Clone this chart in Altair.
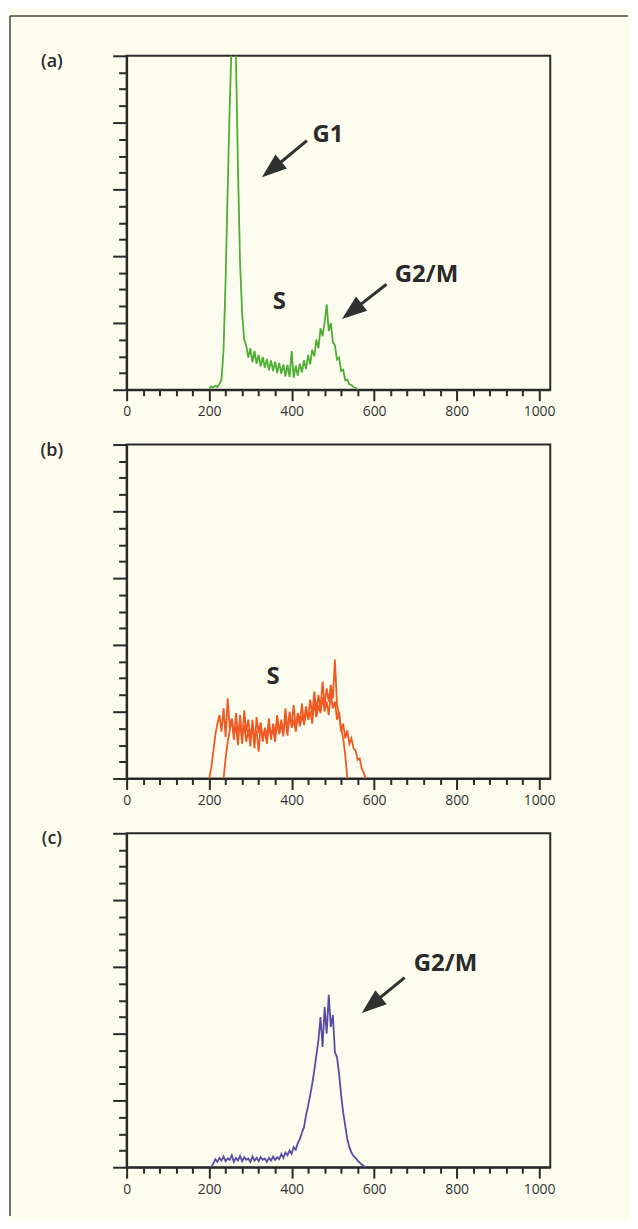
import altair as alt
import pandas as pd

# ---------------- data ----------------
# Panel (a): asynchronous population (green)
a_x = [200, 205, 210, 215, 220, 225, 230, 235, 240, 245,
       250, 255, 260, 265, 270, 275, 280, 285, 290, 295,
       300, 305, 310, 315, 320, 325, 330, 335, 340, 345,
       350, 355, 360, 365, 370, 375, 380, 385, 390, 395,
       400, 405, 410, 415, 420, 425, 430, 435, 440, 445,
       450, 455, 460, 465, 470, 475, 480, 485, 490, 495,
       500, 505, 510, 515, 520, 525, 530, 535, 540, 545,
       550, 555, 560]
a_y = [2, 5, 3, 6, 4, 9, 15, 60, 165, 300,
       425, 530, 560, 500, 330, 190, 115, 75, 66, 48,
       62, 41, 58, 39, 52, 35, 49, 33, 46, 29,
       44, 28, 42, 25, 40, 24, 38, 20, 37, 19,
       58, 18, 36, 21, 39, 26, 44, 31, 52, 38,
       60, 50, 75, 62, 92, 80, 101, 128, 88, 100,
       72, 66, 45, 48, 28, 30, 14, 15, 8, 7,
       4, 3, 0]

# Panel (b): S-phase population (orange), two overlapping traces
b1_x = [200, 205, 210, 215, 220, 225, 230, 235, 240, 245,
        250, 255, 260, 265, 270, 275, 280, 285, 290, 295,
        300, 305, 310, 315, 320, 325, 330, 335, 340, 345,
        350, 355, 360, 365, 370, 375, 380, 385, 390, 395,
        400, 405, 410, 415, 420, 425, 430, 435, 440, 445,
        450, 455, 460, 465, 470, 475, 480, 485, 490, 495,
        500, 505, 510, 515, 520, 525, 530, 535]
b1_y = [0, 15, 40, 65, 82, 95, 70, 105, 62, 120,
        75, 90, 58, 98, 66, 85, 52, 102, 70, 88,
        60, 80, 45, 92, 68, 84, 55, 76, 62, 90,
        58, 82, 65, 95, 70, 88, 63, 105, 72, 92,
        80, 110, 75, 98, 85, 112, 80, 100, 90, 118,
        95, 130, 100, 125, 105, 145, 110, 135, 115, 140,
        120, 178, 110, 95, 75, 60, 35, 0]
b2_x = [235, 240, 245, 250, 255, 260, 265, 270, 275, 280,
        285, 290, 295, 300, 305, 310, 315, 320, 325, 330,
        335, 340, 345, 350, 355, 360, 365, 370, 375, 380,
        385, 390, 395, 400, 405, 410, 415, 420, 425, 430,
        435, 440, 445, 450, 455, 460, 465, 470, 475, 480,
        485, 490, 495, 500, 505, 510, 515, 520, 525, 530,
        535, 540, 545, 550, 555, 560, 565, 570, 575, 580]
b2_y = [0, 30, 55, 72, 88, 66, 78, 50, 95, 62,
        80, 55, 74, 48, 88, 60, 72, 40, 78, 62,
        70, 52, 80, 65, 74, 55, 86, 66, 78, 72,
        90, 64, 100, 76, 88, 70, 96, 78, 92, 85,
        108, 88, 100, 82, 115, 92, 110, 98, 122, 100,
        115, 95, 128, 105, 115, 88, 100, 70, 82, 60,
        72, 52, 60, 45, 42, 28, 30, 15, 8, 0]

# Panel (c): G2/M population (blue-violet)
c_x = [205, 210, 215, 220, 225, 230, 235, 240, 245, 250,
       255, 260, 265, 270, 275, 280, 285, 290, 295, 300,
       305, 310, 315, 320, 325, 330, 335, 340, 345, 350,
       355, 360, 365, 370, 375, 380, 385, 390, 395, 400,
       405, 410, 415, 420, 425, 430, 435, 440, 445, 450,
       455, 460, 465, 470, 475, 480, 485, 490, 495, 500,
       505, 510, 515, 520, 525, 530, 535, 540, 545, 550,
       555, 560, 565, 570, 575, 580]
c_y = [0, 5, 12, 8, 14, 10, 16, 9, 13, 11,
       18, 8, 14, 10, 17, 9, 15, 11, 13, 8,
       16, 10, 14, 9, 15, 11, 13, 8, 14, 10,
       16, 11, 15, 12, 20, 14, 22, 18, 25, 20,
       30, 26, 36, 42, 52, 60, 78, 92, 108, 125,
       145, 168, 190, 225, 180, 240, 200, 258, 210, 228,
       172, 165, 140, 108, 82, 62, 42, 30, 22, 17,
       14, 10, 7, 4, 2, 0]

# tick labels / tick positions
x_tick_values = [0, 40, 80, 120, 160, 200, 240, 280, 320, 360, 400, 440, 480,
                 520, 560, 600, 640, 680, 720, 760, 800, 840, 880, 920, 960, 1000]
y_tick_values = [0, 25, 50, 75, 100, 125, 150, 175, 200, 225, 250, 275, 300,
                 325, 350, 375, 400, 425, 450, 475, 500]

# annotations
a_labels = ["G1", "S", "G2/M"]
a_lab_x = [488, 370, 727]
a_lab_y = [382, 131, 172]
b_labels = ["S"]
b_lab_x = [355]
b_lab_y = [152]
c_labels = ["G2/M"]
c_lab_x = [773]
c_lab_y = [304]

# arrows: tail, shaft end, tip, heading (degrees clockwise from up)
a_arr_tail_x = [437, 630]
a_arr_tail_y = [373, 158]
a_arr_end_x = [351, 545]
a_arr_end_y = [329, 117]
a_arr_tip_x = [328, 522]
a_arr_tip_y = [318, 106]
a_arr_ang = [230.5, 232.1]
c_arr_tail_x = [674]
c_arr_tail_y = [284]
c_arr_end_x = [593]
c_arr_end_y = [243]
c_arr_tip_x = [570]
c_arr_tip_y = [231]
c_arr_ang = [230.8]

# ---------------- styling ----------------
INK = "#2a2a2a"
BG = "#fcfcef"
GREEN = "#4fae34"
ORANGE = "#f05a22"
VIOLET = "#5a4ca3"
FONT = "Open Sans"
W, H = 425, 335

xscale = alt.Scale(domain=[0, 1027], nice=False, zero=False)
yscale = alt.Scale(domain=[0, 500], nice=False)

xaxis = alt.Axis(
    values=x_tick_values, title=None, orient="bottom", grid=False, format="d",
    domainColor=INK, domainWidth=2, tickColor=INK, tickWidth=2,
    tickSize={"condition": {"test": "datum.value % 200 === 0", "value": 11}, "value": 6},
    labelExpr="datum.value % 200 === 0 ? datum.label : ''",
    labelFont=FONT, labelFontSize=14, labelColor="#333333",
    labelPadding=4, labelOverlap=False, labelFlush=False,
)
yaxis = alt.Axis(
    values=y_tick_values, title=None, orient="left", grid=False, labels=False,
    domainColor=INK, domainWidth=2, tickColor=INK, tickWidth=2,
    tickSize={"condition": {"test": "datum.value % 100 === 0", "value": 14}, "value": 8},
)


def X(field):
    return alt.X(field, scale=xscale, axis=xaxis)


def Y(field):
    return alt.Y(field, scale=yscale, axis=yaxis)


def trace(xs, ys, color):
    df = pd.DataFrame({"x": xs, "y": ys})
    return alt.Chart(df).mark_line(color=color, strokeWidth=1.8, clip=True).encode(
        x=X("x:Q"), y=Y("y:Q"),
    )


def labels(texts, xs, ys):
    df = pd.DataFrame({"t": texts, "x": xs, "y": ys})
    return alt.Chart(df).mark_text(
        font=FONT, fontSize=24, fontWeight="bold", color=INK,
        align="center", baseline="middle",
    ).encode(x=X("x:Q"), y=Y("y:Q"), text="t:N")


def arrows(tx, ty, ex, ey, px, py, ang):
    df = pd.DataFrame({"tx": tx, "ty": ty, "ex": ex, "ey": ey,
                       "px": px, "py": py, "ang": ang})
    shaft = alt.Chart(df).mark_rule(color="#2e3330", strokeWidth=3).encode(
        x=X("tx:Q"), y=Y("ty:Q"), x2="ex:Q", y2="ey:Q",
    )
    head = alt.Chart(df).mark_point(
        shape="M0,0L-0.36,1L0.36,1Z", filled=True, size=2500,
        color="#2e3330", opacity=1, strokeWidth=0,
    ).encode(
        x=X("px:Q"), y=Y("py:Q"),
        angle=alt.Angle("ang:Q", scale=None),
    )
    return shaft + head


def panel_label(txt):
    return alt.Chart(pd.DataFrame({"k": [0]})).mark_text(
        text=txt, font=FONT, fontSize=18, fontWeight=600, color=INK,
        align="center", baseline="middle",
    ).encode(x=alt.value(-75), y=alt.value(6))


one = pd.DataFrame({"k": [0]})
frame_top = alt.Chart(one).mark_rule(color="#444444", strokeWidth=1.5).encode(
    x=alt.value(-117), x2=alt.value(503), y=alt.value(-40))
frame_left = alt.Chart(one).mark_rule(color="#444444", strokeWidth=1.5).encode(
    x=alt.value(-117), y=alt.value(-40), y2=alt.value(1164))

pa = alt.layer(
    trace(a_x, a_y, GREEN),
    frame_top, frame_left,
    labels(a_labels, a_lab_x, a_lab_y),
    arrows(a_arr_tail_x, a_arr_tail_y, a_arr_end_x, a_arr_end_y,
           a_arr_tip_x, a_arr_tip_y, a_arr_ang),
    panel_label("(a)"),
).properties(width=W, height=H)

pb = alt.layer(
    trace(b1_x, b1_y, ORANGE),
    trace(b2_x, b2_y, ORANGE),
    labels(b_labels, b_lab_x, b_lab_y),
    panel_label("(b)"),
).properties(width=W, height=H)

pc = alt.layer(
    trace(c_x, c_y, VIOLET),
    labels(c_labels, c_lab_x, c_lab_y),
    arrows(c_arr_tail_x, c_arr_tail_y, c_arr_end_x, c_arr_end_y,
           c_arr_tip_x, c_arr_tip_y, c_arr_ang),
    panel_label("(c)"),
).properties(width=W, height=H)

chart = alt.vconcat(pa, pb, pc, spacing=55, bounds="flush").properties(
    padding={"left": 0, "top": 4, "right": 0, "bottom": 0},
    background=BG,
).configure_view(stroke=INK, strokeWidth=2)

chart.save("out.html", embed_options={"renderer": "svg", "actions": False})
